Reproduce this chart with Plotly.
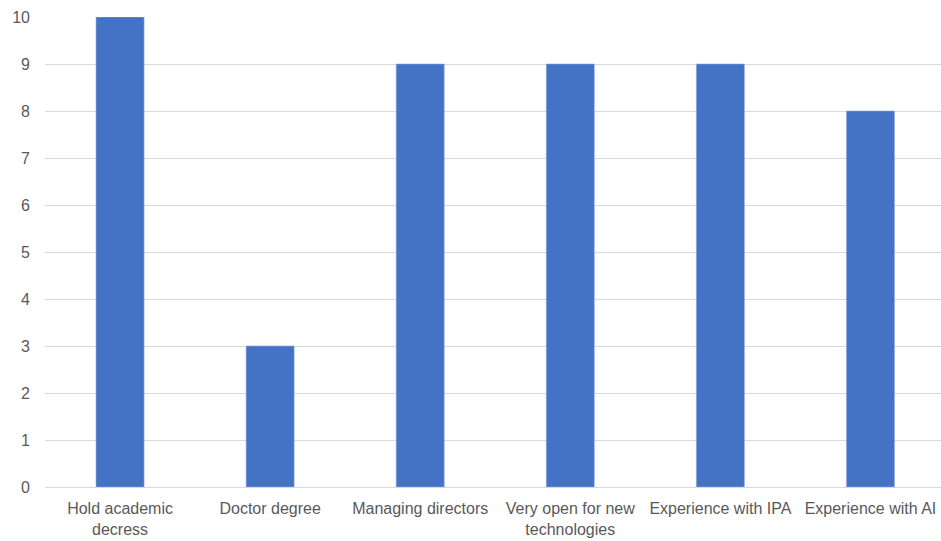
import plotly.graph_objects as go

categories = [
    "Hold academic<br>decress",
    "Doctor degree",
    "Managing directors",
    "Very open for new<br>technologies",
    "Experience with IPA",
    "Experience with AI",
]
values = [10, 3, 9, 9, 9, 8]
y_ticks = list(range(0, 11))

fig = go.Figure(
    go.Bar(
        x=categories,
        y=values,
        marker=dict(color="#4472C4", line=dict(color="#8FAADC", width=0.6)),
        hoverinfo="x+y",
    )
)

fig.update_layout(
    width=941,
    height=541,
    margin=dict(l=45, r=0, t=17, b=54),
    paper_bgcolor="white",
    plot_bgcolor="white",
    bargap=0.68,
    showlegend=False,
    font=dict(family="Liberation Sans, Arial, sans-serif", size=16, color="#595959"),
)
fig.update_xaxes(
    range=[-0.5, 5.47],
    showgrid=False,
    showline=False,
    ticks="",
    ticklabelstandoff=10,
    tickfont=dict(size=16, color="#595959"),
    automargin=False,
)
fig.update_yaxes(
    range=[0, 10],
    tickvals=y_ticks,
    showgrid=True,
    gridcolor="#D9D9D9",
    gridwidth=1,
    zeroline=True,
    zerolinecolor="#D9D9D9",
    zerolinewidth=1,
    ticks="",
    ticklabelstandoff=14,
    tickfont=dict(size=16, color="#595959"),
    automargin=False,
)

fig.write_html("out.html")
